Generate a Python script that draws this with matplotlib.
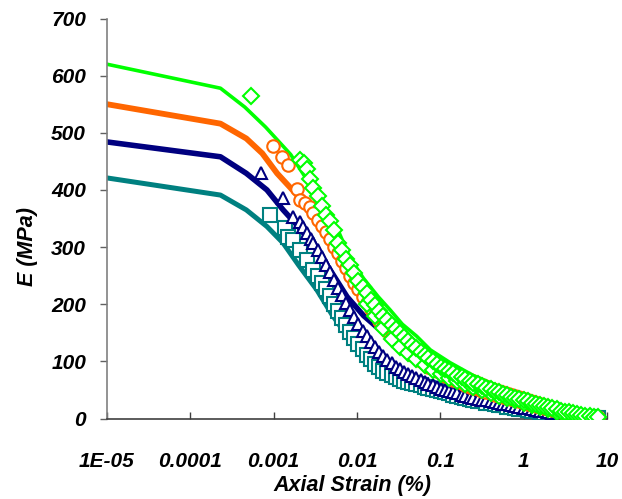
import matplotlib
matplotlib.use("Agg")
import matplotlib.pyplot as plt

# ---------------- data ----------------
x_ticks = [1e-5, 1e-4, 1e-3, 1e-2, 1e-1, 1, 10]
x_tick_labels = ["1E-05", "0.0001", "0.001", "0.01", "0.1", "1", "10"]
y_ticks = [0, 100, 200, 300, 400, 500, 600, 700]

# model lines
green_line_x = [1e-5, 2.3e-4, 4.5e-4, 8e-4, 1.6e-3, 3e-3, 5.7e-3, 8.3e-3, 0.012, 0.018, 0.025, 0.035, 0.052, 0.076, 0.13, 0.25, 0.52, 1, 2, 4, 8.5]
green_line_y = [620, 578, 545, 510, 462, 400, 335, 280, 245, 213, 190, 165, 144, 120, 98, 75, 55, 40, 26, 13, 4]

orange_line_x = [1e-5, 2.3e-4, 4.7e-4, 7.3e-4, 1.1e-3, 2e-3, 3.3e-3, 5.5e-3, 8.3e-3, 0.011, 0.02, 0.025, 0.052, 0.13, 0.44, 1, 2, 4, 8.5]
orange_line_y = [550, 516, 490, 464, 429, 388, 353, 300, 245, 215, 165, 155, 122, 90, 58, 42, 28, 14, 3]

navy_line_x = [1e-5, 2.3e-4, 4.7e-4, 8.3e-4, 1.3e-3, 2e-3, 3.3e-3, 5e-3, 7.6e-3, 0.012, 0.02, 0.027, 0.05, 0.08, 0.13, 0.3, 0.6, 1, 2, 4, 8.5]
navy_line_y = [484, 458, 429, 400, 365, 335, 295, 255, 213, 180, 152, 138, 105, 82, 67, 50, 38, 30, 20, 10, 2]

teal_line_x = [1e-5, 2.3e-4, 4.7e-4, 8.3e-4, 1.3e-3, 2e-3, 3.3e-3, 5e-3, 8e-3, 0.012, 0.02, 0.035, 0.06, 0.1, 0.2, 0.5, 1, 2, 4, 8.5]
teal_line_y = [421, 391, 365, 336, 307, 268, 225, 182, 140, 112, 86, 68, 56, 47, 38, 28, 20, 13, 6, 1]

# measured data: strain readings shared by the dense part of each test
dense_strain = [0.0030, 0.0034, 0.0038, 0.0042, 0.0047, 0.0053, 0.0059, 0.0066, 0.0074, 0.0083,
                0.0093, 0.0104, 0.0117, 0.0131, 0.0147, 0.0165, 0.0185, 0.0207, 0.0232, 0.026,
                0.029, 0.0326, 0.0365, 0.041, 0.046, 0.051, 0.058, 0.065, 0.072, 0.081,
                0.091, 0.102, 0.114, 0.128, 0.143, 0.16, 0.18, 0.2, 0.225, 0.25,
                0.28, 0.32, 0.355, 0.4, 0.45, 0.5, 0.56, 0.63, 0.7, 0.79,
                0.89, 1.0, 1.12, 1.25, 1.4, 1.57, 1.76, 1.97, 2.2, 2.5,
                2.8, 3.1, 3.5, 3.9, 4.4, 4.9, 5.5, 6.2, 6.9, 7.8]

green_early_x = [5.3e-4, 2.07e-3, 2.3e-3, 2.5e-3, 2.7e-3]
green_early_y = [564, 452, 448, 436, 420]
green_dense_y = [404, 389, 372, 356, 345, 330, 307, 295, 280, 268,
                 254, 241, 230, 219, 208, 198, 189, 180, 172, 164,
                 157, 149, 142, 135, 129, 124, 117, 111, 106, 100,
                 95, 91, 87, 83, 79, 75, 72, 69, 66, 63,
                 60, 57, 54, 51, 48, 46, 43, 41, 38, 36,
                 34, 32, 30, 28, 26, 24, 22, 20, 18, 16,
                 14, 12, 11, 9, 8, 6, 5, 4, 3, 2]
green_low_x = [0.0131, 0.0165, 0.0207, 0.026, 0.0326, 0.041, 0.051, 0.065, 0.081, 0.102, 0.128, 0.16, 0.2,
               0.25, 0.32, 0.4, 0.5, 0.63, 0.79, 1.0, 1.25, 1.57, 1.97, 2.5, 3.1, 3.9]
green_low_y = [200, 180, 158, 140, 125, 114, 104, 94, 85, 78, 71, 65, 60,
               55, 50, 45, 40, 36, 32, 28, 24, 20, 16, 12, 9, 7]

orange_early_x = [9.8e-4, 1.25e-3, 1.5e-3, 1.9e-3, 2.07e-3, 2.4e-3, 2.7e-3]
orange_early_y = [477, 458, 443, 401, 383, 378, 370]
orange_dense_y = [360, 348, 337, 326, 314, 301, 289, 276, 263, 250,
                  238, 226, 213, 202, 191, 181, 171, 162, 153, 145,
                  138, 131, 124, 118, 112, 107, 101, 96, 91, 87,
                  83, 79, 75, 72, 68, 65, 62, 59, 56, 54,
                  51, 49, 46, 44, 42, 40, 38, 36, 34, 32,
                  30, 28, 26, 24, 22, 21, 19, 17, 15, 14,
                  12, 11, 9, 8, 7, 5, 4, 3, 2, 2]

navy_early_x = [7.0e-4, 1.3e-3, 1.7e-3, 2.07e-3, 2.25e-3, 2.5e-3, 2.8e-3]
navy_early_y = [429, 386, 353, 344, 335, 325, 314]
navy_dense_y = [307, 295, 282, 269, 256, 242, 229, 216, 203, 190,
                178, 166, 154, 144, 134, 125, 117, 109, 103, 97,
                91, 86, 82, 78, 74, 71, 67, 64, 61, 58,
                55, 52, 50, 48, 46, 44, 42, 40, 38, 36,
                35, 33, 32, 30, 29, 27, 26, 25, 23, 22,
                20, 19, 18, 16, 15, 14, 13, 11, 10, 9,
                8, 7, 6, 5, 4, 3, 3, 2, 1, 1]

teal_early_x = [9.0e-4, 1.37e-3, 1.5e-3, 1.7e-3, 2.07e-3, 2.5e-3]
teal_early_y = [356, 334, 318, 312, 295, 277]
teal_dense_y = [260, 249, 237, 227, 214, 200, 188, 176, 164, 152,
                141, 131, 121, 112, 104, 96, 90, 84, 80, 76,
                72, 69, 66, 64, 62, 60, 58, 56, 54, 52,
                50, 48, 46, 44, 42, 40, 38, 36, 34, 33,
                31, 30, 28, 27, 25, 24, 23, 21, 20, 19,
                17, 16, 15, 14, 13, 12, 10, 9, 8, 7,
                6, 5, 5, 4, 3, 3, 2, 2, 1, 1]

# ---------------- style ----------------
GREEN = "#00FF00"
ORANGE = "#FF6600"
NAVY = "#000080"
TEAL = "#008080"
FONT = "Liberation Sans"

fig = plt.figure(figsize=(6.22, 4.99), dpi=100)
ax = fig.add_axes([107 / 622, 1 - 418.5 / 499, 500 / 622, 400 / 499])

ax.plot(teal_line_x, teal_line_y, color=TEAL, lw=3.6, solid_capstyle="round", zorder=2)
ax.plot(navy_line_x, navy_line_y, color=NAVY, lw=4.0, solid_capstyle="round", zorder=2)
ax.plot(orange_line_x, orange_line_y, color=ORANGE, lw=4.2, solid_capstyle="round", zorder=2)
ax.plot(green_line_x, green_line_y, color=GREEN, lw=2.6, solid_capstyle="round", zorder=2)

mk = dict(linestyle="none", markerfacecolor="white", markeredgewidth=1.5, zorder=3)
ax.plot(teal_early_x + dense_strain, teal_early_y + teal_dense_y,
        marker="s", markersize=9.5, markeredgecolor=TEAL, **mk)
ax.plot(navy_early_x + dense_strain, navy_early_y + navy_dense_y,
        marker="^", markersize=9, markeredgecolor=NAVY, **mk)
ax.plot(orange_early_x + dense_strain, orange_early_y + orange_dense_y,
        marker="o", markersize=9, markeredgecolor=ORANGE, **mk)
ax.plot(green_low_x, green_low_y, marker="D", markersize=8, markeredgecolor=GREEN, **mk)
ax.plot(green_early_x + dense_strain, green_early_y + green_dense_y,
        marker="D", markersize=8, markeredgecolor=GREEN, **mk)

ax.set_xscale("log")
ax.set_xlim(1e-5, 10)
ax.set_ylim(0, 700)
ax.set_xticks(x_ticks)
ax.set_xticklabels(x_tick_labels)
ax.minorticks_off()
ax.set_yticks(y_ticks)

for s in ["top", "right"]:
    ax.spines[s].set_visible(False)
ax.spines["left"].set_color("#808080")
ax.spines["bottom"].set_color("#404040")
ax.spines["left"].set_linewidth(1.2)
ax.spines["bottom"].set_linewidth(1.2)

ax.tick_params(axis="y", direction="out", length=5, width=1, color="#606060", pad=10)
ax.tick_params(axis="x", direction="in", length=5, width=1, color="#404040", pad=24)
for lab in ax.get_xticklabels() + ax.get_yticklabels():
    lab.set_fontfamily(FONT)
    lab.set_fontweight("bold")
    lab.set_fontstyle("italic")
    lab.set_fontsize(15)

fig.text(352 / 622, 1 - 486 / 499, "Axial Strain (%)", ha="center", va="center",
         fontfamily=FONT, fontweight="bold", fontstyle="italic", fontsize=15.5)
fig.text(27 / 622, 1 - 247 / 499, "E (MPa)", ha="center", va="center", rotation=90,
         fontfamily=FONT, fontweight="bold", fontstyle="italic", fontsize=15.5)

fig.savefig("out.png", dpi=100)
